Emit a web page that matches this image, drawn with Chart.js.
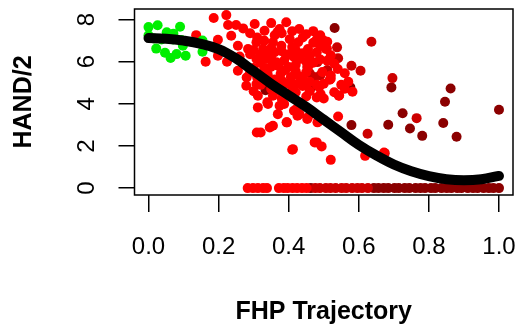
<!DOCTYPE html>
<html>
<head>
<meta charset="utf-8">
<script src="https://cdn.jsdelivr.net/npm/chart.js@4/dist/chart.umd.min.js"></script>
<style>
  html, body { margin: 0; padding: 0; background: #fff; }
</style>
</head>
<body>
<canvas id="handChart" width="522" height="330"></canvas>
<script>
// tick labels
const xTicks = [0, 0.2, 0.4, 0.6, 0.8, 1.0];
const yTicks = [0, 2, 4, 6, 8];

// green points
const greenX = [0.00, 0.026, 0.052, 0.09, 0.071, 0.0, 0.037, 0.094, 0.022, 0.047, 0.063, 0.08, 0.106, 0.098, 0.154, 0.154, 0.015, 0.07];
const greenY = [7.64, 7.73, 7.40, 7.66, 7.33, 7.25, 7.05, 7.03, 6.62, 6.42, 6.18, 6.36, 6.28, 6.76, 6.47, 7.00, 7.10, 7.05];

// bright red points
const redX = [0.186, 0.222, 0.136, 0.163, 0.198, 0.224, 0.198, 0.227, 0.25, 0.27, 0.303, 0.331, 0.35, 0.374, 0.393,
  0.236, 0.255, 0.284, 0.308, 0.327, 0.355, 0.379, 0.403, 0.427, 0.455, 0.255, 0.308, 0.336, 0.365, 0.393, 0.431,
  0.279, 0.308, 0.312, 0.355, 0.379, 0.408, 0.312, 0.341, 0.374, 0.422, 0.369, 0.395, 0.346, 0.355, 0.309, 0.41,
  0.455, 0.431, 0.474, 0.469, 0.368, 0.499, 0.509, 0.496, 0.415, 0.52, 0.453, 0.487, 0.56, 0.544, 0.377, 0.406,
  0.349, 0.387, 0.339, 0.387, 0.415, 0.425, 0.453, 0.482, 0.394, 0.32, 0.541, 0.48, 0.494, 0.412, 0.52, 0.618,
  0.672, 0.506, 0.455, 0.517, 0.582, 0.491, 0.543, 0.484,
  0.42, 0.44, 0.46, 0.48, 0.47, 0.44, 0.41, 0.36, 0.34, 0.32, 0.30, 0.28, 0.34, 0.36, 0.39, 0.42, 0.45, 0.43,
  0.44, 0.42, 0.40, 0.37, 0.50, 0.53, 0.52, 0.49, 0.29, 0.26, 0.30, 0.33, 0.36, 0.38, 0.46, 0.48, 0.50, 0.53, 0.55,
  0.29, 0.31, 0.33, 0.36, 0.38, 0.41, 0.43, 0.45, 0.47, 0.49, 0.30, 0.32, 0.35, 0.38, 0.40, 0.43, 0.45, 0.47,
  0.49, 0.51, 0.35, 0.37, 0.40, 0.42, 0.44, 0.46, 0.48, 0.39, 0.41, 0.35, 0.32, 0.29, 0.31, 0.33, 0.38, 0.43,
  0.45, 0.52, 0.54, 0.56, 0.57, 0.51, 0.48];
const redY = [8.07, 8.21, 7.26, 6.00, 6.28, 6.00, 7.04, 7.74, 7.74, 7.58, 7.79, 7.47, 7.83, 7.55, 7.87,
  7.23, 6.76, 6.60, 6.92, 6.60, 6.92, 6.76, 7.07, 6.92, 6.60, 5.57, 6.13, 6.13, 5.97, 6.28, 6.13,
  4.86, 4.94, 4.38, 4.38, 4.78, 5.02, 3.83, 3.99, 3.91, 3.75, 3.51, 3.12, 2.88, 2.96, 2.64, 1.82,
  3.36, 3.51, 2.17, 3.59, 7.41, 7.01, 6.62, 5.51, 6.22, 5.19, 4.95, 4.80, 4.72, 4.40, 5.43, 5.27,
  5.75, 6.06, 4.07, 3.99, 3.67, 3.43, 3.28, 3.12, 3.12, 2.64, 3.40, 2.17, 1.98, 1.85, 1.34, 1.53,
  1.69, 6.60, 5.73, 5.14, 4.57, 4.46, 4.38, 3.15,
  6.55, 6.40, 6.25, 6.45, 6.90, 7.15, 6.70, 6.45, 6.30, 5.95, 5.70, 5.25, 5.40, 5.15, 5.60, 5.85, 5.50, 5.30,
  4.85, 4.55, 4.45, 4.65, 4.95, 5.90, 6.30, 6.75, 6.35, 6.25, 4.60, 5.05, 4.95, 4.25, 4.60, 4.30, 4.25, 4.55, 4.90,
  7.35, 7.15, 7.00, 7.25, 7.35, 7.45, 7.55, 7.30, 7.45, 7.25, 6.55, 6.35, 6.65, 6.50, 6.35, 6.20, 6.00, 5.95,
  6.10, 6.05, 6.15, 5.80, 5.75, 5.55, 5.25, 5.05, 4.90, 4.95, 4.75, 4.70, 4.90, 5.50, 5.25, 5.70, 5.10, 4.95,
  4.35, 5.35, 5.65, 5.45, 5.05, 6.95, 7.05];

// medium red points
const midX = [0.636, 0.482, 0.453, 0.472, 0.579, 0.605, 0.696, 0.765, 0.625, 0.674, 0.538, 0.541, 0.46, 0.49, 0.51];
const midY = [6.95, 5.98, 5.75, 5.27, 5.81, 5.57, 5.22, 3.32, 2.58, 1.66, 6.68, 6.16, 5.45, 5.35, 5.60];

// dark red points
const darkX = [0.531, 0.576, 0.469, 0.693, 0.862, 0.846, 0.725, 0.684, 0.746, 0.781, 0.841, 0.879, 1.0, 0.579, 0.334];
const darkY = [7.60, 4.78, 4.83, 4.78, 4.73, 4.10, 3.55, 3.01, 2.83, 2.48, 3.09, 2.44, 3.72, 2.99, 4.64];

// points sitting on zero
const zeroRedX = [0.283, 0.298, 0.312, 0.327, 0.338, 0.372, 0.386, 0.397, 0.411, 0.424, 0.438, 0.451];
const zeroMidX = [0.476, 0.489, 0.506, 0.519, 0.534, 0.551, 0.564, 0.581, 0.596, 0.609, 0.626];
const zeroDarkX = [0.463, 0.643, 0.656, 0.671, 0.684, 0.702, 0.714, 0.731, 0.744, 0.762, 0.776, 0.789, 0.806,
  0.818, 0.836, 0.851, 0.864, 0.881, 0.893, 0.911, 0.926, 0.939, 0.956, 0.971, 0.984, 1.0];

// smooth fit
const curveX = [0, 0.05, 0.1, 0.15, 0.2, 0.25, 0.3, 0.35, 0.4, 0.45, 0.5, 0.55, 0.6, 0.65, 0.7, 0.75, 0.8, 0.85, 0.9, 0.95, 1.0];
const curveY = [7.12, 7.09, 7.0, 6.85, 6.6, 6.15, 5.55, 4.95, 4.4, 3.85, 3.25, 2.65, 2.05, 1.55, 1.12, 0.8, 0.57, 0.42, 0.37, 0.42, 0.58];

const FONT = "'Liberation Sans', Arial, Helvetica, sans-serif";

function pts(xs, ys) {
    return xs.map((x, i) => ({ x: x, y: ys ? ys[i] : 0 }));
}

function dots(data, color) {
    return {
        data: data,
        backgroundColor: color,
        borderWidth: 0,
        pointRadius: 5,
        pointHoverRadius: 5,
        order: 1
    };
}

// R style box round the plot region
const boxPlugin = {
    id: 'box',
    afterDatasetsDraw(chart) {
        const a = chart.chartArea;
        const ctx = chart.ctx;
        ctx.save();
        ctx.strokeStyle = '#000';
        ctx.lineWidth = 1.5;
        ctx.strokeRect(a.left, a.top, a.right - a.left, a.bottom - a.top);
        ctx.restore();
    }
};

const ctx = document.getElementById('handChart').getContext('2d');

new Chart(ctx, {
    type: 'scatter',
    data: {
        datasets: [
            {
                type: 'line',
                data: pts(curveX, curveY),
                borderColor: '#000',
                borderWidth: 10,
                borderCapStyle: 'round',
                pointRadius: 0,
                tension: 0.4,
                fill: false,
                order: 0
            },
            dots(pts(greenX, greenY), 'rgb(0,238,0)'),
            dots(pts(redX, redY), 'rgb(255,0,0)'),
            dots(pts(zeroRedX), 'rgb(255,0,0)'),
            dots(pts(midX, midY), 'rgb(205,0,0)'),
            dots(pts(zeroMidX), 'rgb(205,0,0)'),
            dots(pts(darkX, darkY), 'rgb(139,0,0)'),
            dots(pts(zeroDarkX), 'rgb(139,0,0)')
        ]
    },
    options: {
        responsive: false,
        animation: false,
        events: [],
        devicePixelRatio: 1,
        layout: { padding: { top: 9, right: 9, left: 0, bottom: 0 } },
        plugins: {
            legend: { display: false },
            tooltip: { enabled: false }
        },
        scales: {
            x: {
                type: 'linear',
                min: -0.04,
                max: 1.04,
                afterBuildTicks: scale => { scale.ticks = xTicks.map(v => ({ value: v })); },
                afterFit: scale => {
                    scale.height = 135;
                    scale.paddingLeft = 0;
                    scale.paddingRight = 0;
                },
                border: { display: false },
                grid: { drawOnChartArea: false, drawTicks: true, tickLength: 17, color: '#000', lineWidth: 1.5 },
                ticks: {
                    autoSkip: false,
                    maxRotation: 0,
                    padding: 21,
                    color: '#000',
                    font: { family: FONT, size: 24 },
                    callback: v => v.toFixed(1)
                },
                title: {
                    display: true,
                    text: 'FHP Trajectory',
                    color: '#000',
                    font: { family: FONT, size: 25, weight: 'bold' },
                    padding: { top: 0, bottom: 3 }
                }
            },
            y: {
                type: 'linear',
                min: -0.327,
                max: 8.5,
                afterBuildTicks: scale => { scale.ticks = yTicks.map(v => ({ value: v })); },
                afterFit: scale => {
                    scale.width = 134.5;
                    scale.paddingTop = 0;
                    scale.paddingBottom = 0;
                },
                border: { display: false },
                grid: { drawOnChartArea: false, drawTicks: true, tickLength: 16, color: '#000', lineWidth: 1.5 },
                ticks: {
                    autoSkip: false,
                    minRotation: 90,
                    maxRotation: 90,
                    crossAlign: 'center',
                    padding: 24,
                    color: '#000',
                    font: { family: FONT, size: 24 },
                    callback: v => String(v)
                },
                title: {
                    display: true,
                    text: 'HAND/2',
                    color: '#000',
                    font: { family: FONT, size: 25, weight: 'bold' },
                    padding: { top: 9, bottom: 0 }
                }
            }
        }
    },
    plugins: [boxPlugin]
});
</script>
</body>
</html>
